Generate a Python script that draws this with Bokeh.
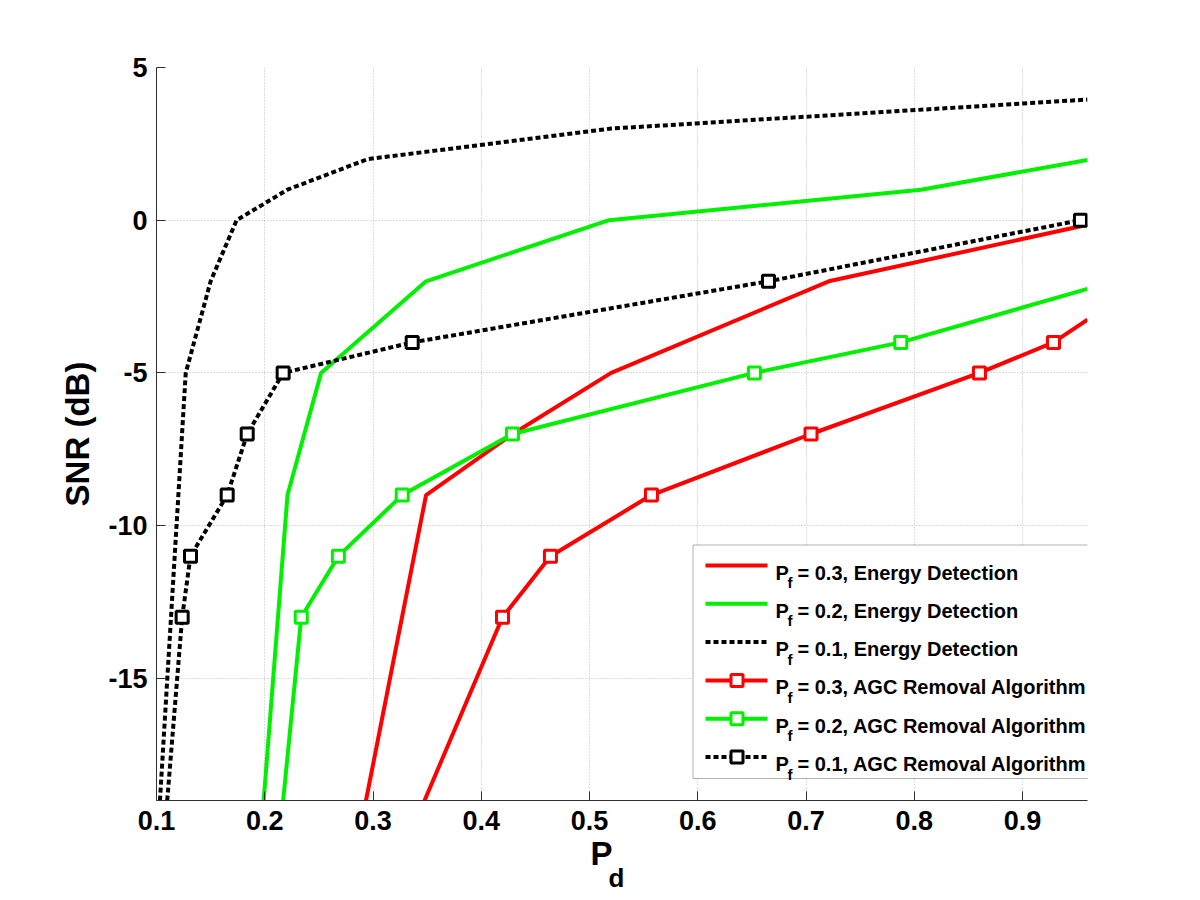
from bokeh.plotting import figure
from bokeh.models import Range1d, FixedTicker, Label, BoxAnnotation, Title
from bokeh.embed import file_html
from bokeh.resources import INLINE

# ---------------- data ----------------
# Energy detection curves (no markers)
ed03_x = [0.2935, 0.349, 0.429, 0.520, 0.721, 0.960]
ed03_y = [-19, -9, -7, -5, -2, -0.15]

ed02_x = [0.199, 0.221, 0.252, 0.349, 0.518, 0.806, 0.960]
ed02_y = [-19, -9, -5, -2, 0, 1, 1.97]

ed01_x = [0.1032, 0.127, 0.150, 0.174, 0.221, 0.295, 0.520, 0.960]
ed01_y = [-19, -5, -2, 0, 1, 2, 3, 3.95]

# AGC removal algorithm curves (markers at the computed points)
agc03_x = [0.4196, 0.4639, 0.5572, 0.7046, 0.8602, 0.9286]
agc03_y = [-13, -11, -9, -7, -5, -4]
agc03_start = (0.3476, -19)
agc03_end = (0.960, -3.26)

agc02_x = [0.2337, 0.2680, 0.3270, 0.4288, 0.6523, 0.7875]
agc02_y = [-13, -11, -9, -7, -5, -4]
agc02_start = (0.2170, -19)
agc02_end = (0.960, -2.25)

agc01_x = [0.1237, 0.1314, 0.1653, 0.1838, 0.2170, 0.3362, 0.6653, 0.9535]
agc01_y = [-13, -11, -9, -7, -5, -4, -2, 0]
agc01_start = (0.1099, -19)

x_ticks = [0.1, 0.2, 0.3, 0.4, 0.5, 0.6, 0.7, 0.8, 0.9]
y_ticks = [-15, -10, -5, 0, 5]

legend_labels = [
    "= 0.3, Energy Detection",
    "= 0.2, Energy Detection",
    "= 0.1, Energy Detection",
    "= 0.3, AGC Removal Algorithm",
    "= 0.2, AGC Removal Algorithm",
    "= 0.1, AGC Removal Algorithm",
]

# ---------------- layout / style ----------------
X_MIN, X_MAX = 0.1, 0.96
Y_MIN, Y_MAX = -19, 5
FRAME_W, FRAME_H = 931, 733
BORDER_L, BORDER_T = 156, 67
FRAME_LEFT = BORDER_L   # page px
FRAME_TOP = BORDER_T

RED = "#ff0000"
GREEN = "#00f000"
BLACK = "#000000"
FONT = "Liberation Sans"
DOT = "5 3"


def dx(px):
    return X_MIN + (px - FRAME_LEFT) * (X_MAX - X_MIN) / FRAME_W


def dy(py):
    return Y_MAX - (py - FRAME_TOP) * (Y_MAX - Y_MIN) / FRAME_H


p = figure(frame_width=FRAME_W, frame_height=FRAME_H,
           min_border_left=BORDER_L, min_border_right=1192 - BORDER_L - FRAME_W,
           min_border_top=BORDER_T, min_border_bottom=900 - BORDER_T - FRAME_H,
           x_range=Range1d(X_MIN, X_MAX), y_range=Range1d(Y_MIN, Y_MAX),
           output_backend="svg", toolbar_location=None,
           background_fill_color="white", border_fill_color="white")
p.outline_line_color = None

for ax in (p.xaxis[0], p.yaxis[0]):
    ax.axis_line_color = "#303030"
    ax.axis_line_width = 1
    ax.major_tick_in = 9
    ax.major_tick_out = 0
    ax.major_tick_line_color = "#303030"
    ax.minor_tick_line_color = None
    ax.major_label_text_font = FONT
    ax.major_label_text_font_style = "bold"
    ax.major_label_text_font_size = "27px"
    ax.major_label_text_color = "black"

p.xaxis[0].ticker = FixedTicker(ticks=x_ticks)
p.yaxis[0].ticker = FixedTicker(ticks=y_ticks)
p.xaxis[0].major_label_standoff = 10
p.yaxis[0].major_label_standoff = 9
p.xaxis[0].major_label_overrides = {t: f"{t:.1f}" for t in x_ticks}
p.yaxis[0].major_label_overrides = {t: f"{t:d}" for t in y_ticks}

p.yaxis[0].axis_label = "SNR (dB)"
p.yaxis[0].axis_label_text_font = FONT
p.yaxis[0].axis_label_text_font_style = "bold"
p.yaxis[0].axis_label_text_font_size = "33px"
p.yaxis[0].axis_label_text_color = "black"
p.yaxis[0].axis_label_standoff = 9
p.xaxis[0].axis_label = None

for g, tk in ((p.xgrid[0], x_ticks), (p.ygrid[0], y_ticks)):
    g.ticker = FixedTicker(ticks=tk)
    g.grid_line_color = "#b8b8b8"
    g.grid_line_dash = "1 2"
    g.grid_line_width = 1

# x-axis label "P_d" as two titles under the axis
p.add_layout(Title(text="P", align="left", offset=590 - FRAME_LEFT, standoff=0,
                   text_color="black",
                   text_font=FONT, text_font_style="bold", text_font_size="33px"), "below")
p.add_layout(Title(text="d", align="left", offset=608 - FRAME_LEFT, standoff=-22,
                   text_color="black",
                   text_font=FONT, text_font_style="bold", text_font_size="26px"), "below")

# ---------------- series ----------------
p.line(ed03_x, ed03_y, line_color=RED, line_width=4)
p.line(ed02_x, ed02_y, line_color=GREEN, line_width=4)
p.line(ed01_x, ed01_y, line_color=BLACK, line_width=4, line_dash=DOT)


def agc(xs, ys, start, end, color, dash=None):
    lx = [start[0]] + xs + ([end[0]] if end else [])
    ly = [start[1]] + ys + ([end[1]] if end else [])
    kw = dict(line_dash=dash) if dash else {}
    p.line(lx, ly, line_color=color, line_width=4, **kw)
    p.scatter(xs, ys, marker="square", size=12, line_color=color,
              line_width=3, fill_color="white")


agc(agc03_x, agc03_y, agc03_start, agc03_end, RED)
agc(agc02_x, agc02_y, agc02_start, agc02_end, GREEN)
agc(agc01_x, agc01_y, agc01_start, None, BLACK, DOT)

# ---------------- legend ----------------
p.add_layout(BoxAnnotation(left=dx(692.5), right=dx(1108), top=dy(544.5), bottom=dy(778),
                           fill_color="white", fill_alpha=1.0,
                           line_color="black", line_width=1, level="underlay"))

styles = [(RED, None, False), (GREEN, None, False), (BLACK, DOT, False),
          (RED, None, True), (GREEN, None, True), (BLACK, DOT, True)]
for i, ((color, dash, mk), lab) in enumerate(zip(styles, legend_labels)):
    cy = 565 + 38.3 * i
    kw = dict(line_dash=dash) if dash else {}
    p.line([dx(705), dx(767)], [dy(cy), dy(cy)], line_color=color, line_width=4, **kw)
    if mk:
        p.scatter([dx(736.5)], [dy(cy)], marker="square", size=12, line_color=color,
                  line_width=3, fill_color="white")
    p.add_layout(Label(x=dx(775), y=dy(cy + 7), text="P", text_align="left",
                       text_baseline="alphabetic", text_font=FONT, text_color="black",
                       text_font_style="bold", text_font_size="20px"))
    p.add_layout(Label(x=dx(787), y=dy(cy + 17), text="f", text_align="left",
                       text_baseline="alphabetic", text_font=FONT, text_color="black",
                       text_font_style="bold", text_font_size="15px"))
    p.add_layout(Label(x=dx(797), y=dy(cy + 7), text=lab, text_align="left",
                       text_baseline="alphabetic", text_font=FONT, text_color="black",
                       text_font_style="bold", text_font_size="20px"))

open("out.html", "w").write(file_html(p, INLINE))
